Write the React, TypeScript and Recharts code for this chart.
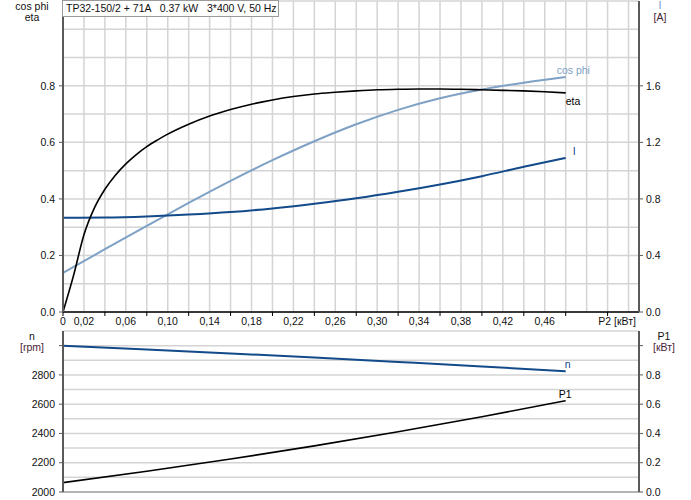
import React from 'react';
import { LineChart, Line, XAxis, YAxis, CartesianGrid } from 'recharts';

const FONT = '"Liberation Sans", Arial, sans-serif';

// ---- ticks / grid values ----
const p2Ticks = [0, 0.02, 0.04, 0.06, 0.08, 0.1, 0.12, 0.14, 0.16, 0.18, 0.2, 0.22, 0.24, 0.26, 0.28, 0.3, 0.32, 0.34, 0.36, 0.38, 0.4, 0.42, 0.44, 0.46, 0.48, 0.5, 0.52];
const p2Labels = [0, 0.02, 0.06, 0.1, 0.14, 0.18, 0.22, 0.26, 0.3, 0.34, 0.38, 0.42, 0.46];
const p2Marks = [0, 0.04, 0.08, 0.12, 0.16, 0.2, 0.24, 0.28, 0.32, 0.36, 0.4, 0.44, 0.48, 0.52];
const topGridX = [0, 0.02, 0.04, 0.06, 0.08, 0.1, 0.12, 0.14, 0.16, 0.18, 0.2, 0.22, 0.24, 0.26, 0.28, 0.3, 0.32, 0.34, 0.36, 0.38, 0.4, 0.42, 0.44, 0.46, 0.48, 0.5, 0.52, 0.54];
const topGridY = [0, 0.1, 0.2, 0.3, 0.4, 0.5, 0.6, 0.7, 0.8, 0.9, 1.0, 1.1];
const cosEtaTicks = [0, 0.2, 0.4, 0.6, 0.8];
const currentTicks = [0, 0.4, 0.8, 1.2, 1.6];
const bottomGridX = [0, 0.05, 0.1, 0.15, 0.2, 0.25, 0.3, 0.35, 0.4, 0.45, 0.5, 0.55];
const speedGrid = [2000, 2100, 2200, 2300, 2400, 2500, 2600, 2700, 2800, 2900, 3000, 3100];
const speedTicks = [2000, 2200, 2400, 2600, 2800, 3000];
const p1Ticks = [0, 0.2, 0.4, 0.6, 0.8, 1.0];

// ---- series ----
const etaData = [
  { x: 0, v: 0 }, { x: 0.01, v: 0.128 }, { x: 0.02, v: 0.273 }, { x: 0.03, v: 0.368 },
  { x: 0.04, v: 0.434 }, { x: 0.05, v: 0.484 }, { x: 0.06, v: 0.524 }, { x: 0.07, v: 0.557 },
  { x: 0.08, v: 0.585 }, { x: 0.09, v: 0.608 }, { x: 0.1, v: 0.629 }, { x: 0.12, v: 0.664 },
  { x: 0.14, v: 0.693 }, { x: 0.16, v: 0.716 }, { x: 0.18, v: 0.735 }, { x: 0.2, v: 0.75 },
  { x: 0.22, v: 0.762 }, { x: 0.24, v: 0.771 }, { x: 0.26, v: 0.777 }, { x: 0.28, v: 0.782 },
  { x: 0.3, v: 0.786 }, { x: 0.32, v: 0.788 }, { x: 0.34, v: 0.789 }, { x: 0.36, v: 0.789 },
  { x: 0.38, v: 0.788 }, { x: 0.4, v: 0.786 }, { x: 0.42, v: 0.784 }, { x: 0.44, v: 0.782 },
  { x: 0.46, v: 0.779 }, { x: 0.48, v: 0.775 },
];
const cosPhiData = [
  { x: 0, v: 0.138 }, { x: 0.04, v: 0.222 }, { x: 0.08, v: 0.305 }, { x: 0.12, v: 0.386 },
  { x: 0.16, v: 0.464 }, { x: 0.2, v: 0.537 }, { x: 0.24, v: 0.604 }, { x: 0.28, v: 0.664 },
  { x: 0.32, v: 0.715 }, { x: 0.36, v: 0.756 }, { x: 0.4, v: 0.787 }, { x: 0.44, v: 0.811 },
  { x: 0.48, v: 0.831 },
];
const currentData = [
  { x: 0, v: 0.666 }, { x: 0.04, v: 0.668 }, { x: 0.08, v: 0.676 }, { x: 0.12, v: 0.689 },
  { x: 0.16, v: 0.707 }, { x: 0.2, v: 0.733 }, { x: 0.24, v: 0.766 }, { x: 0.28, v: 0.804 },
  { x: 0.32, v: 0.85 }, { x: 0.36, v: 0.902 }, { x: 0.4, v: 0.961 }, { x: 0.44, v: 1.027 },
  { x: 0.48, v: 1.09 },
];
const speedData = [
  { x: 0, v: 2999 }, { x: 0.08, v: 2974 }, { x: 0.16, v: 2947 }, { x: 0.24, v: 2919 },
  { x: 0.32, v: 2889 }, { x: 0.4, v: 2858 }, { x: 0.48, v: 2825 },
];
const p1Data = [
  { x: 0, v: 0.064 }, { x: 0.08, v: 0.142 }, { x: 0.16, v: 0.225 }, { x: 0.24, v: 0.315 },
  { x: 0.32, v: 0.412 }, { x: 0.4, v: 0.514 }, { x: 0.48, v: 0.624 },
];

const COS_COLOR = '#7ea1c5';
const I_COLOR = '#124a8a';
const AXIS_DARK = '#5a5a5a';
const GRID = '#d4d4d4';
const TXT = '#111';
const UNIT = '#4a2236';

const has = (arr: number[], v: number) => arr.some((a) => Math.round(a * 1000) === Math.round(v * 1000));

const P2Tick = (props: any) => {
  const { x, y, payload } = props;
  const v = payload.value as number;
  const lbl = v === 0 ? '0' : v.toFixed(2).replace('.', ',');
  return (
    <g>
      {has(p2Marks, v) && <line x1={x} x2={x} y1={y - 6} y2={y - 2} stroke="#000" strokeWidth={1} />}
      {has(p2Labels, v) && (
        <text x={x} y={y} dy="0.71em" textAnchor="middle" fontSize={10.5} fontFamily={FONT} fill={TXT}>
          {lbl}
        </text>
      )}
    </g>
  );
};

const P2Label = (props: any) => {
  const vb = props.viewBox || {};
  return (
    <text x={vb.x + vb.width - 3} y={vb.y + 6} dy="0.71em" textAnchor="end" fontSize={10.5} fontFamily={FONT} fill={TXT}>
      P2 [кВт]
    </text>
  );
};

const endLabel = (len: number, text: string, color: string, dx: number, dy: number) => (p: any) => {
  if (p.index !== len - 1) return <g />;
  return (
    <text x={p.x + dx} y={p.y + dy} textAnchor="start" fontSize={10.5} fontFamily={FONT} fill={color}>
      {text}
    </text>
  );
};

const tickStyle = { fontSize: 10.5, fontFamily: FONT, fill: TXT };

export default function App() {
  return (
    <div style={{ position: 'absolute', left: 0, top: 0, width: 691, height: 500, background: '#fff', fontFamily: FONT }}>
      <div style={{ position: 'absolute', left: 0, top: 0 }}>
        <LineChart width={691} height={330} margin={{ top: 1, right: 0, bottom: 0, left: 0 }}>
          <CartesianGrid
            xAxisId="x"
            yAxisId="l"
            stroke={GRID}
            strokeWidth={1.5}
            horizontalValues={topGridY}
            verticalValues={topGridX}
          />
          <XAxis
            xAxisId="x"
            type="number"
            dataKey="x"
            domain={[0, 0.55]}
            allowDataOverflow
            ticks={p2Ticks}
            interval={0}
            tick={<P2Tick />}
            tickLine={false}
            tickSize={4}
            tickMargin={2}
            height={18}
            axisLine={{ stroke: '#000', strokeWidth: 1.5 }}
            label={<P2Label />}
          />
          <YAxis
            yAxisId="l"
            type="number"
            domain={[0, 1.1]}
            allowDataOverflow
            ticks={cosEtaTicks}
            interval={0}
            width={63}
            tickSize={4}
            tickMargin={4}
            tick={tickStyle}
            tickFormatter={(v: number) => v.toFixed(1)}
            tickLine={{ stroke: AXIS_DARK }}
            axisLine={{ stroke: AXIS_DARK, strokeWidth: 2 }}
          />
          <YAxis
            yAxisId="r"
            orientation="right"
            type="number"
            domain={[0, 2.2]}
            allowDataOverflow
            ticks={currentTicks}
            interval={0}
            width={52}
            tickSize={4}
            tickMargin={3}
            tick={{ ...tickStyle, textAnchor: 'start' }}
            tickFormatter={(v: number) => v.toFixed(1)}
            tickLine={{ stroke: AXIS_DARK }}
            axisLine={{ stroke: AXIS_DARK, strokeWidth: 2 }}
          />
          <Line
            xAxisId="x"
            yAxisId="l"
            data={cosPhiData}
            dataKey="v"
            type="monotone"
            stroke={COS_COLOR}
            strokeWidth={2}
            dot={false}
            isAnimationActive={false}
            label={endLabel(cosPhiData.length, 'cos phi', COS_COLOR, -9, -3)}
          />
          <Line
            xAxisId="x"
            yAxisId="r"
            data={currentData}
            dataKey="v"
            type="monotone"
            stroke={I_COLOR}
            strokeWidth={2}
            dot={false}
            isAnimationActive={false}
            label={endLabel(currentData.length, 'I', I_COLOR, 7, -3)}
          />
          <Line
            xAxisId="x"
            yAxisId="l"
            data={etaData}
            dataKey="v"
            type="monotone"
            stroke="#000"
            strokeWidth={1.6}
            dot={false}
            isAnimationActive={false}
            label={endLabel(etaData.length, 'eta', '#000', 0, 12)}
          />
        </LineChart>
      </div>

      <div style={{ position: 'absolute', left: 0, top: 325 }}>
        <LineChart width={691} height={175} margin={{ top: 6, right: 0, bottom: 0, left: 0 }}>
          <CartesianGrid
            xAxisId="x"
            yAxisId="l"
            stroke={GRID}
            strokeWidth={1.5}
            horizontalValues={speedGrid}
            verticalValues={bottomGridX}
          />
          <XAxis
            xAxisId="x"
            type="number"
            dataKey="x"
            domain={[0, 0.55]}
            allowDataOverflow
            ticks={bottomGridX}
            tick={false}
            tickLine={false}
            height={8}
            axisLine={{ stroke: '#b4b4b4', strokeWidth: 2 }}
          />
          <YAxis
            yAxisId="l"
            type="number"
            domain={[2000, 3100]}
            allowDataOverflow
            ticks={speedTicks}
            interval={0}
            width={63}
            tickSize={4}
            tickMargin={4}
            tick={tickStyle}
            tickFormatter={(v: number) => (v === 3000 ? '' : String(v))}
            tickLine={{ stroke: AXIS_DARK }}
            axisLine={{ stroke: AXIS_DARK, strokeWidth: 2 }}
          />
          <YAxis
            yAxisId="r"
            orientation="right"
            type="number"
            domain={[0, 1.1]}
            allowDataOverflow
            ticks={p1Ticks}
            interval={0}
            width={52}
            tickSize={4}
            tickMargin={3}
            tick={{ ...tickStyle, textAnchor: 'start' }}
            tickFormatter={(v: number) => (v === 1 ? '' : v.toFixed(1))}
            tickLine={{ stroke: AXIS_DARK }}
            axisLine={{ stroke: AXIS_DARK, strokeWidth: 2 }}
          />
          <Line
            xAxisId="x"
            yAxisId="l"
            data={speedData}
            dataKey="v"
            type="monotone"
            stroke={I_COLOR}
            strokeWidth={2}
            dot={false}
            isAnimationActive={false}
            label={endLabel(speedData.length, 'n', I_COLOR, -1, -3)}
          />
          <Line
            xAxisId="x"
            yAxisId="r"
            data={p1Data}
            dataKey="v"
            type="monotone"
            stroke="#000"
            strokeWidth={1.6}
            dot={false}
            isAnimationActive={false}
            label={endLabel(p1Data.length, 'P1', '#000', -7, -3)}
          />
        </LineChart>
      </div>

      <div
        style={{
          position: 'absolute',
          left: 62,
          top: 0,
          width: 212,
          height: 15,
          border: '1px solid #9a9a9a',
          background: '#fff',
          fontSize: 10.5,
          lineHeight: '14px',
          paddingLeft: 3,
          color: TXT,
          whiteSpace: 'pre',
          overflow: 'hidden',
          fontFamily: FONT,
        }}
      >
        {'TP32-150/2 + 71A   0.37 kW   3*400 V, 50 Hz'}
      </div>

      <svg width={691} height={500} style={{ position: 'absolute', left: 0, top: 0, pointerEvents: 'none' }}>
        <g fontFamily={FONT} fontSize={10.5} textAnchor="middle">
          <text x={32} y={10} fill={TXT}>cos phi</text>
          <text x={32} y={20.5} fill={TXT}>eta</text>
          <text x={660} y={9} fill="#6f9bd2">I</text>
          <text x={660} y={20.5} fill={UNIT}>[A]</text>
          <text x={32} y={339.5} fill={TXT}>n</text>
          <text x={32} y={350.5} fill={UNIT}>[rpm]</text>
          <text x={664} y={339.5} fill={TXT}>P1</text>
          <text x={664} y={350.5} fill={UNIT}>[кВт]</text>
        </g>
      </svg>
    </div>
  );
}
